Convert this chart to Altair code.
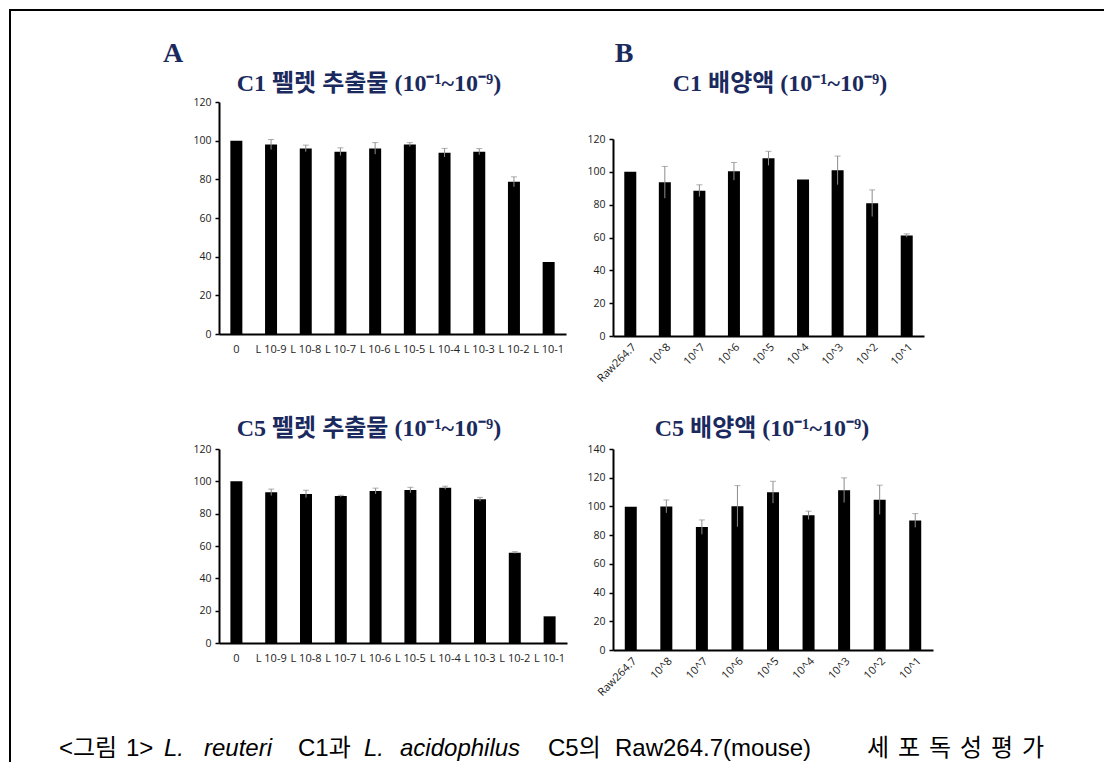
import altair as alt
import pandas as pd

# ---------------- data ----------------
cats_pellet = ["0", "L 10-9", "L 10-8", "L 10-7", "L 10-6", "L 10-5", "L 10-4", "L 10-3", "L 10-2", "L 10-1"]
c1_pellet_val = [100, 98, 96, 94.3, 96, 98, 93.8, 94.3, 78.7, 37.2]
c1_pellet_err = [0, 2.6, 1.7, 2.0, 3.0, 1.0, 2.2, 1.6, 2.6, 0]
c5_pellet_val = [100, 93.2, 92.2, 90.9, 94, 94.6, 96, 88.9, 55.9, 16.5]
c5_pellet_err = [0, 2.0, 2.3, 0.5, 1.8, 1.7, 1.0, 1.2, 0.6, 0]

cats_sup = ["Raw264.7", "10^8", "10^7", "10^6", "10^5", "10^4", "10^3", "10^2", "10^1"]
c1_sup_val = [100, 93.6, 88.5, 100.3, 108.2, 95.3, 100.9, 80.9, 61.2]
c1_sup_err = [0, 9.7, 3.6, 5.4, 4.3, 0, 8.7, 8.1, 1.0]
c5_sup_val = [99.8, 100, 85.6, 100.2, 109.9, 93.8, 111.3, 104.6, 90.2]
c5_sup_err = [0, 4.5, 5.0, 14.3, 7.6, 2.9, 8.6, 10.2, 4.8]

yticks_120 = [0, 20, 40, 60, 80, 100, 120]
yticks_140 = [0, 20, 40, 60, 80, 100, 120, 140]

title_c1_pellet = "C1 펠렛 추출물 (10⁻¹~10⁻⁹)"
title_c5_pellet = "C5 펠렛 추출물 (10⁻¹~10⁻⁹)"
title_c1_sup = "C1 배양액 (10⁻¹~10⁻⁹)"
title_c5_sup = "C5 배양액 (10⁻¹~10⁻⁹)"
caption_words = [
    ("<그림", "normal"), ("1>", "normal"), ("L.", "italic"), ("reuteri", "italic"),
    ("C1과", "normal"), ("L.", "italic"), ("acidophilus", "italic"), ("C5의", "normal"),
    ("Raw264.7(mouse)", "normal"), ("세", "normal"), ("포", "normal"), ("독", "normal"),
    ("성", "normal"), ("평", "normal"), ("가", "normal"),
]

NAVY = "#1b2a5e"
TITLE_FONT = "Liberation Serif, Noto Sans CJK KR"
CAP_FONT = "Liberation Sans, Noto Sans CJK KR"


def panel(cats, vals, errs, ydom, yvals, angle, yrange=None):
    df = pd.DataFrame({"cat": cats, "val": vals, "err": errs})
    df["lo"] = df["val"] - df["err"]
    df["hi"] = df["val"] + df["err"]
    yscale = alt.Scale(domain=ydom, range=yrange) if yrange else alt.Scale(domain=ydom)
    yaxis = alt.Axis(values=yvals, grid=False, labelOverlap=False)
    x = alt.X("cat:N", sort=cats, title=None,
              scale=alt.Scale(paddingInner=0.65, paddingOuter=0.325),
              axis=alt.Axis(labelAngle=angle, ticks=False, labelFontSize=11,
                            labelPadding=9 if angle == 0 else 5))
    base = alt.Chart(df)
    bars = base.mark_bar(color="black", size=12).encode(
        x=x, y=alt.Y("val:Q", scale=yscale, title=None, axis=yaxis),
    )
    errdf = base.transform_filter("datum.err > 0")
    rule = errdf.mark_rule(color="#8c8c8c", strokeWidth=1).encode(
        x=x, y=alt.Y("lo:Q", scale=yscale, title=None, axis=yaxis), y2="hi:Q")
    cap = errdf.mark_tick(color="#8c8c8c", size=6, thickness=1).encode(
        x=x, y=alt.Y("hi:Q", scale=yscale, title=None, axis=yaxis))
    return bars, rule, cap


def text_at(txt, x, y, size, font, color="black", weight="normal", style="normal", align="center"):
    return alt.Chart().mark_text(
        text=txt, fontSize=size, font=font, color=color, fontWeight=weight,
        fontStyle=style, align=align, baseline="middle"
    ).encode(x=alt.value(x), y=alt.value(y))


# --- A1 (origin page 218,101) ---
b, r, c = panel(cats_pellet, c1_pellet_val, c1_pellet_err, [0, 120], yticks_120, 0)
frame_top = alt.Chart().mark_rule(color="black", strokeWidth=2).encode(
    x=alt.value(-210), x2=alt.value(885), y=alt.value(-92))
frame_left = alt.Chart().mark_rule(color="black", strokeWidth=2).encode(
    x=alt.value(-209), y=alt.value(-93), y2=alt.value(660))
cap_x = [58, 125, 163, 203, 297, 363, 399, 547, 614, 866, 897, 928, 959, 990, 1021]
cap_layers = [
    text_at(w, cx - 218, 647, 24, CAP_FONT, style=st, align="left")
    for (w, st), cx in zip(caption_words, cap_x)
]
A1 = alt.layer(
    b, r, c,
    text_at(title_c1_pellet, 150, -18, 24, TITLE_FONT, NAVY, "bold"),
    text_at("A", -46, -48, 28, "Liberation Serif", NAVY, "bold"),
    frame_top, frame_left, *cap_layers,
).properties(width=347, height=232)

# --- B1 (origin page 612,101) ---
b, r, c = panel(cats_sup, c1_sup_val, c1_sup_err, [0, 120], yticks_120, -45, yrange=[234, 37])
B1 = alt.layer(
    b, r, c,
    text_at(title_c1_sup, 167, -18, 24, TITLE_FONT, NAVY, "bold"),
    text_at("B", 11, -48, 28, "Liberation Serif", NAVY, "bold"),
).properties(width=311, height=234)

# --- A2 (origin page 218,448) ---
b, r, c = panel(cats_pellet, c5_pellet_val, c5_pellet_err, [0, 120], yticks_120, 0)
A2 = alt.layer(
    b, r, c,
    text_at(title_c5_pellet, 150, -20, 24, TITLE_FONT, NAVY, "bold"),
).properties(width=348, height=194)

# --- B2 (origin page 612,448) ---
b, r, c = panel(cats_sup, c5_sup_val, c5_sup_err, [0, 140], yticks_140, -45)
B2 = alt.layer(
    b, r, c,
    text_at(title_c5_sup, 149, -20, 24, TITLE_FONT, NAVY, "bold"),
).properties(width=320, height=201)

chart = alt.concat(
    A1, B1, A2, B2, columns=2, bounds="flush", spacing={"row": 113, "column": 46}
).properties(padding=0).configure_view(stroke=None).configure_axis(
    domainColor="black", domainWidth=2, tickColor="black", tickSize=4, tickWidth=1.5,
    labelFont="Open Sans", labelFontSize=10.5, labelColor="#222", labelPadding=4,
    grid=False,
)

chart.save("out.html", embed_options={"renderer": "svg", "actions": False})
